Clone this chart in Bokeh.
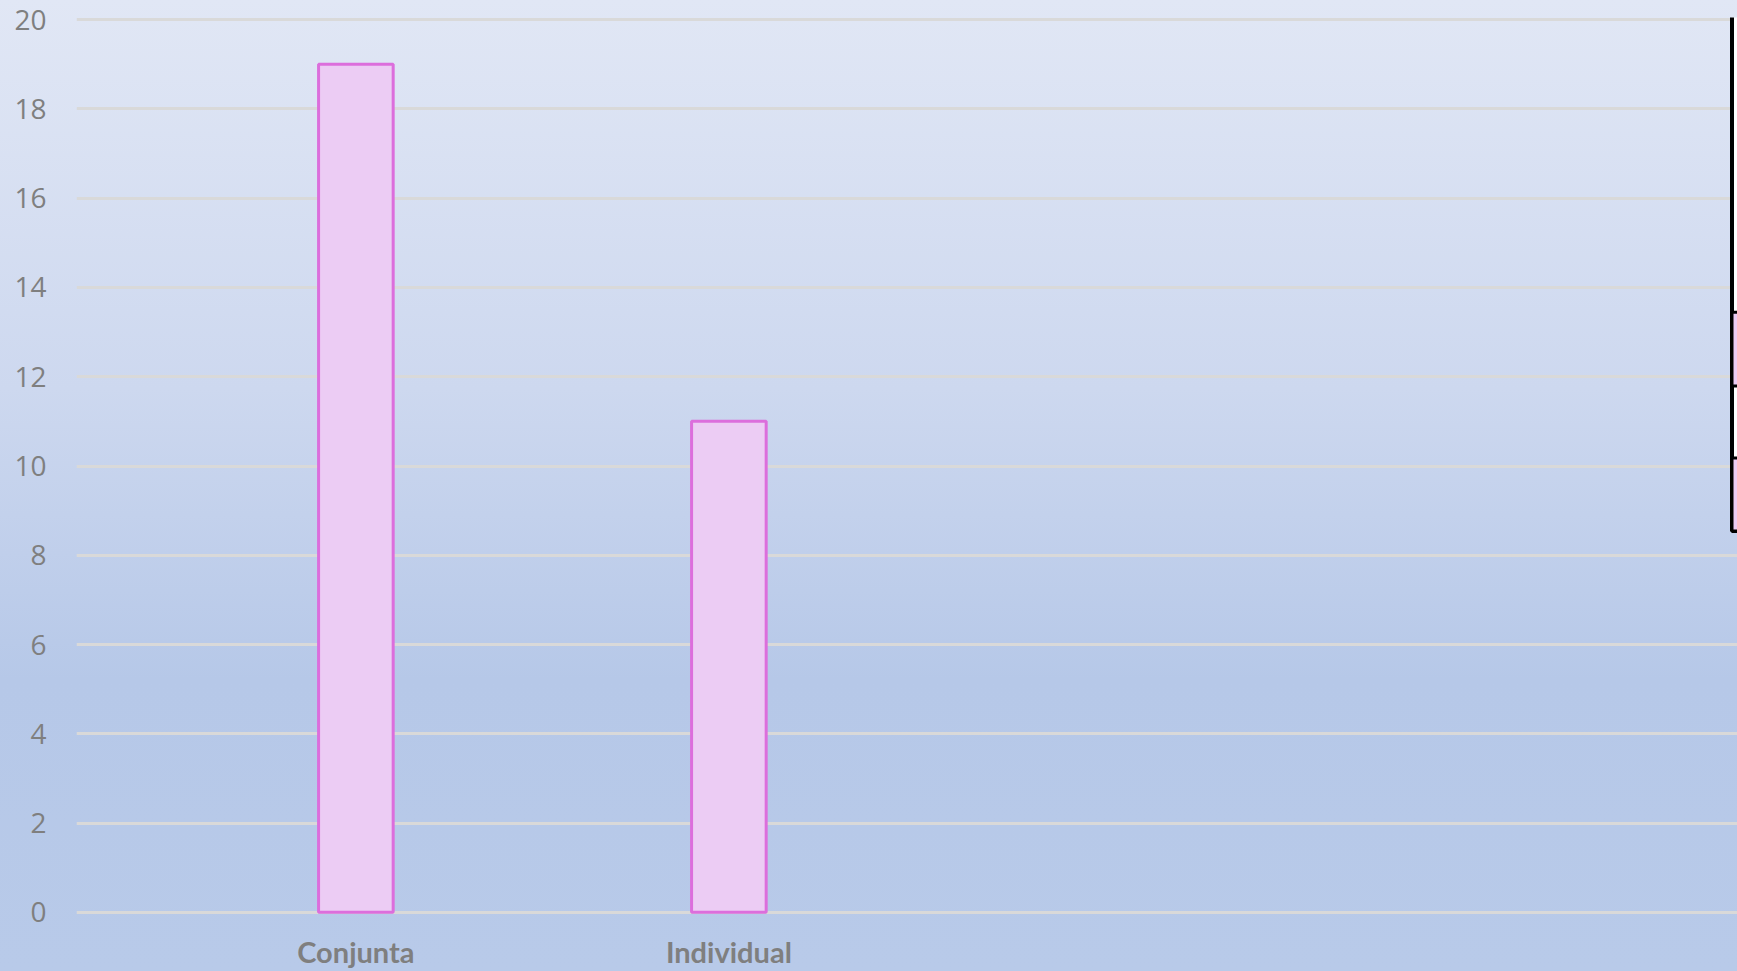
from bokeh.plotting import figure
from bokeh.models import FixedTicker, Range1d, BoxAnnotation, ColumnDataSource
from bokeh.embed import file_html
from bokeh.resources import INLINE

# ---- data ----
categories = ["Conjunta", "Individual"]
values = [19, 11]
y_ticks = [0, 2, 4, 6, 8, 10, 12, 14, 16, 18, 20]

# ---- layout constants ----
W, H = 1737, 971
BL, BT, BB = 76, 17, 56
X_START = -0.749
X_END = X_START + (W - BL) / 373.0
Y_START, Y_END = -0.05, 20.05

p = figure(width=W, height=H, output_backend="svg", toolbar_location=None,
           x_range=Range1d(X_START, X_END), y_range=Range1d(Y_START, Y_END),
           min_border_left=BL, min_border_right=0, min_border_top=BT,
           min_border_bottom=BB)

p.styles = {"background": "linear-gradient(to bottom, #E1E7F5 0%, #CDD8EF 40%, #B6C8E8 70%, #B8CAE9 100%)"}
p.background_fill_alpha = 0
p.border_fill_alpha = 0
p.outline_line_color = None

src = ColumnDataSource(dict(x=list(range(len(categories))), top=values))
p.vbar(x="x", top="top", width=0.2, bottom=0, source=src,
       fill_color="#ECCCF4", line_color="#DC6EDC", line_width=3)

# y axis
p.yaxis.ticker = FixedTicker(ticks=y_ticks)
p.yaxis.axis_line_color = None
p.yaxis.major_tick_line_color = None
p.yaxis.minor_tick_line_color = None
p.yaxis.major_label_standoff = 24
p.yaxis.major_label_text_font = "Open Sans"
p.yaxis.major_label_text_font_size = "28px"
p.yaxis.major_label_text_color = "#7F7F7F"

# x axis
p.xaxis.ticker = FixedTicker(ticks=list(range(len(categories))))
p.xaxis.major_label_overrides = {i: c for i, c in enumerate(categories)}
p.xaxis.axis_line_color = None
p.xaxis.major_tick_line_color = None
p.xaxis.minor_tick_line_color = None
p.xaxis.major_label_standoff = 13
p.xaxis.major_label_text_font = "Lato"
p.xaxis.major_label_text_font_style = "bold"
p.xaxis.major_label_text_font_size = "29px"
p.xaxis.major_label_text_color = "#7F7F7F"

p.xgrid.grid_line_color = None
p.ygrid.ticker = FixedTicker(ticks=y_ticks)
p.ygrid.grid_line_color = "#D9D9D9"
p.ygrid.grid_line_width = 3

# cut-off legend box at the right edge
ppu = (W - BL) / (X_END - X_START)
left = X_END - 5.5 / ppu
right = X_END + 1
ypp = (H - BT - BB) / (Y_END - Y_START)
def yv(px):
    return Y_END - (px - BT) / ypp
p.add_layout(BoxAnnotation(left=left, right=right, top=yv(14), bottom=yv(531),
                           fill_color="white", fill_alpha=1,
                           line_color="black", line_alpha=1, line_width=4))
p.add_layout(BoxAnnotation(left=left, right=right, top=yv(312), bottom=yv(386),
                           fill_color="#ECCCF4", fill_alpha=1,
                           line_color="black", line_alpha=1, line_width=3))
p.add_layout(BoxAnnotation(left=left, right=right, top=yv(458), bottom=yv(531),
                           fill_color="#ECCCF4", fill_alpha=1,
                           line_color="black", line_alpha=1, line_width=3))

open("out.html", "w").write(file_html(p, INLINE))
